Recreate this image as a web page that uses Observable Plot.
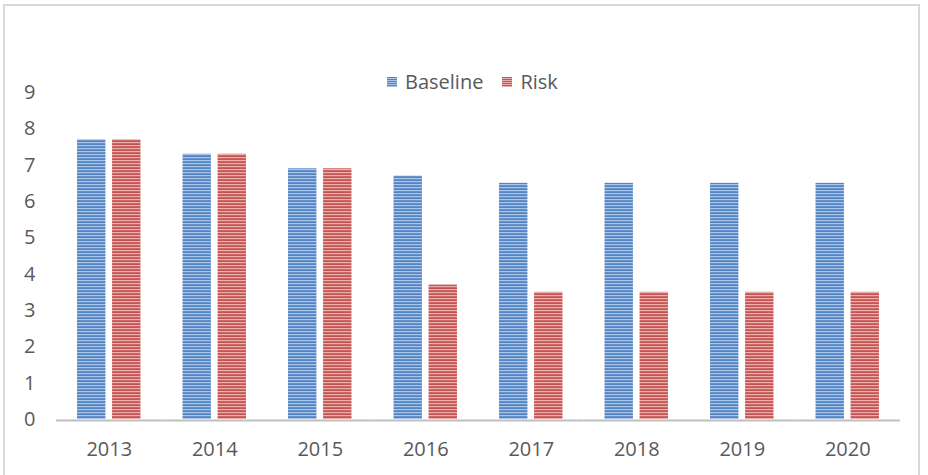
<!DOCTYPE html>
<html>
<head>
<meta charset="utf-8">
<script src="https://cdn.jsdelivr.net/npm/d3@7"></script>
<script src="https://cdn.jsdelivr.net/npm/@observablehq/plot@0.6"></script>
<style>
  html, body { margin: 0; padding: 0; background: #fff; }
  #wrap { position: relative; width: 928px; height: 475px; overflow: hidden; font-family: "Open Sans", sans-serif; }
  #border { position: absolute; left: 3px; top: 4px; width: 917px; height: 490px; border: 2px solid #d9d9d9; box-sizing: border-box; }
  #legend { position: absolute; left: 387px; top: 68px; display: flex; align-items: center; font-size: 20px; color: #595959; }
  #legend .sw { width: 10px; height: 10px; display: inline-block; margin-right: 8px; }
  #legend .item { display: flex; align-items: center; margin-right: 19px; }
  #chart { position: absolute; left: 0; top: 0; }
</style>
</head>
<body>
<div id="wrap">
  <div id="border"></div>
  <div id="chart"></div>
  <div id="legend"></div>
</div>
<script>
const years = ["2013", "2014", "2015", "2016", "2017", "2018", "2019", "2020"];
const series = ["Baseline", "Risk"];
const baseline = [7.7, 7.3, 6.9, 6.7, 6.5, 6.5, 6.5, 6.5];
const risk = [7.7, 7.3, 6.9, 3.7, 3.5, 3.5, 3.5, 3.5];
const yTicks = [0, 1, 2, 3, 4, 5, 6, 7, 8, 9];

const data = [];
years.forEach((y, i) => {
  data.push({year: y, series: "Baseline", value: baseline[i]});
  data.push({year: y, series: "Risk", value: risk[i]});
});

const patterns = {
  Baseline: {id: "pat-baseline", base: "#5584c2", light: "#a9c5ea"},
  Risk: {id: "pat-risk", base: "#c55552", light: "#ebb0ae"}
};

const plot = Plot.plot({
  width: 928,
  height: 475,
  marginLeft: 56,
  marginRight: 28,
  marginTop: 92,
  marginBottom: 56,
  style: {fontFamily: "'Open Sans', sans-serif", fontSize: "20px", color: "#595959", background: "transparent"},
  fx: {domain: years, padding: 0, round: false, axis: "bottom", tickSize: 0, tickPadding: 22, label: null},
  x: {domain: series, paddingInner: 0.19, paddingOuter: 0.6, round: false, axis: null},
  y: {domain: [0, 9], ticks: yTicks, tickSize: 0, tickPadding: 21, label: null, tickFormat: d3.format("d")},
  color: {domain: series, range: series.map(s => `url(#${patterns[s].id})`)},
  marks: [
    Plot.barY(data, {fx: "year", x: "series", y: "value", fill: "series"}),
    Plot.ruleY([0], {stroke: "#bfbfbf", strokeWidth: 2, dy: 1})
  ]
});

const svg = d3.select(plot);
const defs = svg.insert("defs", ":first-child");
for (const s of series) {
  const p = patterns[s];
  const pat = defs.append("pattern")
    .attr("id", p.id).attr("patternUnits", "userSpaceOnUse")
    .attr("width", 4).attr("height", 3);
  pat.append("rect").attr("width", 4).attr("height", 3).attr("fill", p.base);
  pat.append("rect").attr("y", 1).attr("width", 4).attr("height", 1.2).attr("fill", p.light);
}
svg.selectAll("text").attr("fill", "#595959");

document.getElementById("chart").appendChild(plot);

const legend = d3.select("#legend");
for (const s of series) {
  const item = legend.append("div").attr("class", "item");
  item.append("span").attr("class", "sw")
    .style("background", `repeating-linear-gradient(to bottom, ${patterns[s].base} 0px, ${patterns[s].base} 1px, ${patterns[s].light} 1px, ${patterns[s].light} 2px)`);
  item.append("span").text(s);
}
</script>
</body>
</html>
